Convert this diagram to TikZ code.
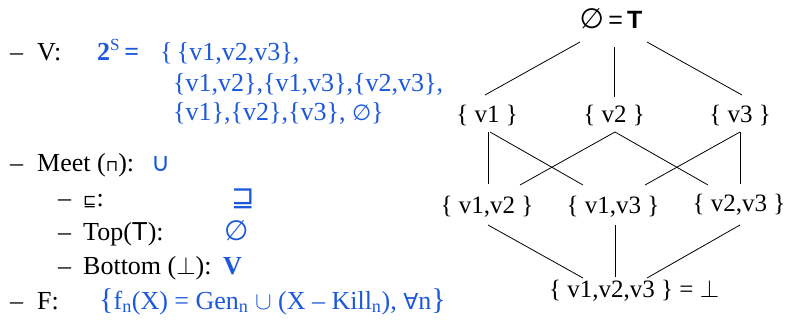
\documentclass[tikz,border=0pt]{standalone}
\usepackage{fontspec}
\setmainfont{Liberation Serif}
\newfontfamily\symf{DejaVu Sans}
\newfontfamily\sansf{Liberation Sans}
\usetikzlibrary{calc}
\definecolor{setblue}{RGB}{28,88,220}
\begin{document}
\begin{tikzpicture}[x=1pt,y=-1pt,
  txt/.style={anchor=base west, inner sep=0pt, font=\fontsize{26}{30}\selectfont},
  blu/.style={txt, text=setblue},
  lat/.style={anchor=base, inner sep=0pt, font=\fontsize{25}{28}\selectfont},
  edge/.style={draw, line width=0.8pt}]
\useasboundingbox (0,0) rectangle (788,322);
% ---------- left column ----------
\node[txt] (d1) at (10,60) {–};
\node[txt] (lv) at (37,60) {V:};
\node[blu] (two) at (97,60) {\textbf{2}\textsuperscript{\fontsize{17}{17}\selectfont S}\,\textbf{=}};
\node[blu] (s1) at (160,60) {\{\,\{v1,v2,v3\},};
\node[blu] (s2) at (173,91) {\{v1,v2\},\{v1,v3\},\{v2,v3\},};
\node[blu] (s3) at (173,120) {\{v1\},\{v2\},\{v3\}, {\symf\fontsize{22}{22}\selectfont ∅}\}};
\node[txt] (d2) at (10,171) {–};
\node[txt] (lm) at (37,171) {Meet ({\symf\fontsize{16}{16}\selectfont ⊓}):};
\node[blu] (vm) at (151,171) {{\symf ∪}};
\node[txt] (d3) at (58,206) {–};
\node[txt] (lo) at (83,206) {{\symf\fontsize{16}{16}\selectfont ⊑}:};
\node[blu] (vo) at (231,206) {{\symf\fontsize{28}{28}\selectfont ⊒}};
\node[txt] (d4) at (58,240) {–};
\node[txt] (lt) at (83,240) {Top({\sansf T}):};
\node[blu] (vt) at (224,240) {{\symf\fontsize{28}{28}\selectfont ∅}};
\node[txt] (d5) at (58,274) {–};
\node[txt] (lb) at (83,274) {Bottom ($\perp$):};
\node[blu] (vb) at (223,274) {\textbf{V}};
\node[txt] (d6) at (10,309) {–};
\node[txt] (lf) at (37,309) {F:};
\node[blu] (vf) at (99,309) {{\fontsize{30}{30}\selectfont\{}f\textsubscript{n}(X) = Gen\textsubscript{n} $\cup$ (X – Kill\textsubscript{n}), {\symf\fontsize{22}{22}\selectfont ∀}n{\fontsize{30}{30}\selectfont\}}};
% ---------- lattice ----------
\node[lat] (t) at (611,28) {{\symf\fontsize{28}{28}\selectfont ∅}\,{\sansf\fontsize{25}{25}\selectfont =\,\textbf{T}}};
\node[lat] (a1) at (487,122) {\{ v1 \}};
\node[lat] (a2) at (614,122) {\{ v2 \}};
\node[lat] (a3) at (740,122) {\{ v3 \}};
\node[lat] (b12) at (487,213) {\{ v1,v2 \}};
\node[lat] (b13) at (613,213) {\{ v1,v3 \}};
\node[lat] (b23) at (739,211) {\{ v2,v3 \}};
\node[lat, anchor=base west] (c) at (549,297) {\{ v1,v2,v3 \} = $\perp$};
% top -> level 1
\draw[edge] ($(t.base)+(-31,14)$) -- ($(a1.base)+(-2,-27)$);
\draw[edge] ($(t.base)+(3,19)$) -- ($(a2.base)+(0,-25)$);
\draw[edge] ($(t.base)+(36,14)$) -- ($(a3.base)+(2,-27)$);
% level 1 -> level 2
\draw[edge] ($(a1.base)+(1,10)$) -- ($(b12.base)+(1,-29)$);
\draw[edge] ($(a1.base)+(3,10)$) -- ($(b13.base)+(-30,-28)$);
\draw[edge] ($(a2.base)+(1,10)$) -- ($(b12.base)+(33,-28)$);
\draw[edge] ($(a2.base)+(1,10)$) -- ($(b23.base)+(-31,-26)$);
\draw[edge] ($(a3.base)+(0,10)$) -- ($(b13.base)+(32,-28)$);
\draw[edge] ($(a3.base)+(0,10)$) -- ($(b23.base)+(1,-27)$);
% level 2 -> bottom
\draw[edge] ($(b12.base)+(1,12)$) -- ($(c.base west)+(34,-19)$);
\draw[edge] ($(b13.base)+(2,12)$) -- ($(c.base west)+(66,-20)$);
\draw[edge] ($(b23.base)+(1,14)$) -- ($(c.base west)+(98,-19)$);
\end{tikzpicture}
\end{document}
